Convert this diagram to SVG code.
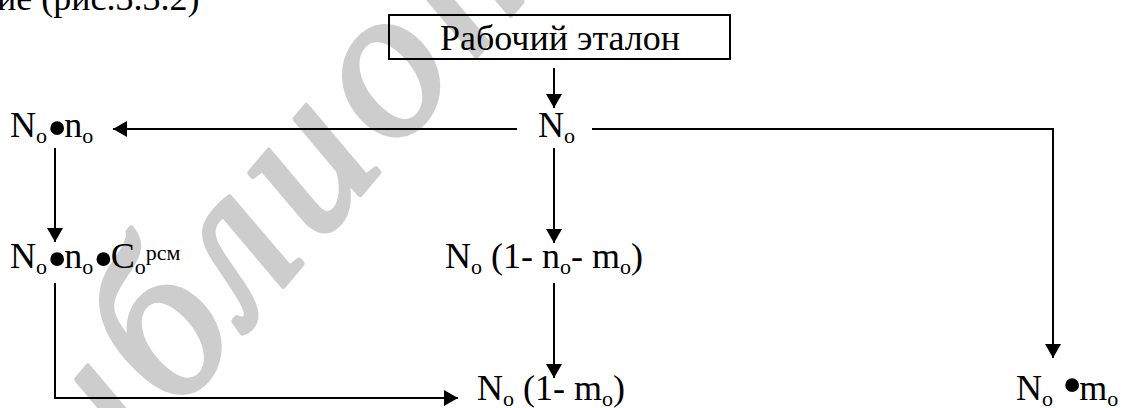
<svg xmlns="http://www.w3.org/2000/svg" width="1123" height="408" viewBox="0 0 1123 408">
<style>
 text{font-family:"Liberation Serif","Times New Roman",serif;font-size:36px;fill:#000}
 text.wm{font-family:"Liberation Serif","Times New Roman",serif;font-style:italic;font-size:215px;letter-spacing:12px;fill:#cdcdcd;stroke:#cdcdcd;stroke-width:5;stroke-linejoin:round}
 .ln{fill:none;stroke:#000;stroke-width:2}
 .s{font-size:22px}
 .b{font-size:58px;letter-spacing:-3px}
</style>
<defs>
 <marker id="ah" markerUnits="userSpaceOnUse" markerWidth="16" markerHeight="16" refX="14" refY="8" orient="auto">
  <path d="M0,0 L14,8 L0,16 Z" fill="#000"/>
 </marker>
</defs>
<rect width="1123" height="408" fill="#fff"/>
<text class="wm" transform="translate(10,612) rotate(-50)">Библиотека</text>
<text x="-3" y="10">ие (рис.3.3.2)</text>

<g id="connectors">
 <line class="ln" x1="554" y1="68" x2="554" y2="108" marker-end="url(#ah)"/>
 <line class="ln" x1="517" y1="129" x2="113" y2="129" marker-end="url(#ah)"/>
 <polyline class="ln" points="592,129 1053,129 1053,358" marker-end="url(#ah)"/>
 <line class="ln" x1="55" y1="148" x2="55" y2="242" marker-end="url(#ah)"/>
 <line class="ln" x1="554" y1="148" x2="554" y2="243" marker-end="url(#ah)"/>
 <line class="ln" x1="554" y1="283" x2="554" y2="378" marker-end="url(#ah)"/>
 <polyline class="ln" points="55,283 55,398 458,398" marker-end="url(#ah)"/>
</g>

<g id="etalon">
 <rect class="ln" x="389" y="15" width="341" height="44"/>
 <text x="560" y="50" text-anchor="middle">Рабочий эталон</text>
</g>
<g id="n0">
 <text x="538" y="137">N<tspan class="s" dy="6">o</tspan></text>
</g>
<g id="n0n0">
 <text x="10" y="137">N<tspan class="s" dy="6">o</tspan><tspan class="b" dy="4">•</tspan><tspan dy="-10">n</tspan><tspan class="s" dy="6">o</tspan></text>
</g>
<g id="n0n0c0">
 <text x="10" y="268">N<tspan class="s" dy="6">o</tspan><tspan class="b" dy="4">•</tspan><tspan dy="-10">n</tspan><tspan class="s" dy="6">o</tspan><tspan class="b" dy="4">•</tspan><tspan dy="-10">C</tspan><tspan class="s" dy="6">o</tspan><tspan class="s" dy="-14">рсм</tspan></text>
</g>
<g id="n0-1-n0-m0">
 <text x="445" y="268">N<tspan class="s" dy="6">o</tspan><tspan dy="-6"> (1- n</tspan><tspan class="s" dy="6">o</tspan><tspan dy="-6">- m</tspan><tspan class="s" dy="6">o</tspan><tspan dy="-6">)</tspan></text>
</g>
<g id="n0-1-m0">
 <text x="477" y="400">N<tspan class="s" dy="6">o</tspan><tspan dy="-6"> (1- m</tspan><tspan class="s" dy="6">o</tspan><tspan dy="-6">)</tspan></text>
</g>
<g id="n0m0">
 <text x="1016" y="400">N<tspan class="s" dy="6">o</tspan><tspan dy="-6"> </tspan><tspan class="b" dy="4">•</tspan><tspan dy="-4">m</tspan><tspan class="s" dy="6">o</tspan></text>
</g>
</svg>
